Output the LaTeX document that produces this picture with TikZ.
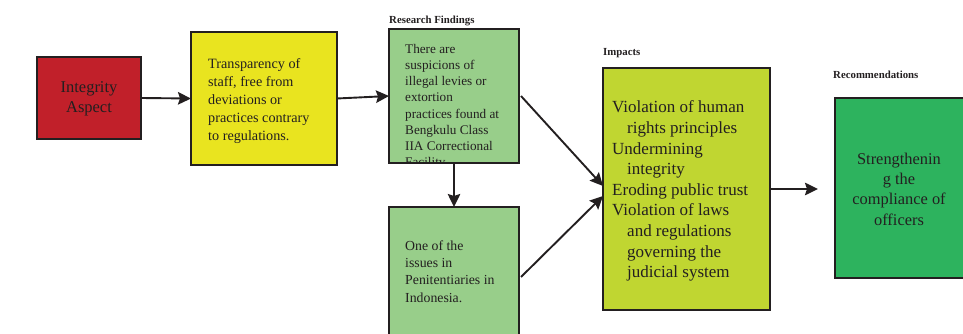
\documentclass[tikz,border=0pt]{standalone}
\usepackage{fontspec}
\setmainfont{Liberation Serif}
\usetikzlibrary{arrows.meta}

\definecolor{redbox}{HTML}{C1202A}
\definecolor{yellowbox}{HTML}{E9E41F}
\definecolor{lightgreen}{HTML}{98CE8A}
\definecolor{limebox}{HTML}{C0D631}
\definecolor{greenbox}{HTML}{2DB35E}
\definecolor{ink}{HTML}{231F20}

\begin{document}
\begin{tikzpicture}[x=1pt,y=-1pt,
  box/.style={rectangle, anchor=north west, inner sep=0pt, outer sep=0pt},
  frame/.style={draw=ink, line width=2.2pt},
  flow/.style={draw=ink, line width=1.9pt, -{Stealth[length=13pt,width=12.5pt,inset=2pt]}},
  heading/.style={font=\fontsize{10.8}{12}\selectfont\bfseries, anchor=base west, text=ink, inner sep=0pt},
  body/.style={text=ink, inner sep=0pt, align=left, anchor=north west}
]
\useasboundingbox (0,0) rectangle (963,334);

% boxes
\node[box, frame, fill=redbox, minimum width=104pt, minimum height=82pt] (aspect) at (37,57) {};
\node[box, frame, fill=yellowbox, minimum width=146pt, minimum height=133pt] (transp) at (191,32) {};
\node[box, fill=lightgreen, minimum width=130pt, minimum height=134pt] (findings) at (389,29) {};
\node[box, frame, fill=lightgreen, minimum width=130pt, minimum height=140pt] (issues) at (389,207) {};
\node[box, frame, fill=limebox, minimum width=167pt, minimum height=242pt] (impacts) at (603,68) {};
\node[box, frame, fill=greenbox, minimum width=160pt, minimum height=180pt] (recs) at (835,98) {};

% headings
\node[heading] (hfind) at (389,23.5) {Research Findings};
\node[heading] (himp) at (603,55.5) {Impacts};
\node[heading] (hrec) at (833,78.5) {Recommendations};

% texts
\node[text=ink, align=center, inner sep=0pt, font=\fontsize{16.5}{20}\selectfont] (taspect) at ([yshift=-1pt]aspect.center) {Integrity\\Aspect};
\node[body, font=\fontsize{14.2}{17.9}\selectfont] (ttransp) at (208,58.5) {Transparency of\\staff, free from\\deviations or\\practices contrary\\to regulations.};
\begin{scope}
  \clip ([shift={(1pt,1pt)}]findings.south west) rectangle ([shift={(-1pt,-1pt)}]findings.north east);
  \node[body, font=\fontsize{13.2}{16.2}\selectfont] (tfind) at (405,44) {There are\\suspicions of\\illegal levies or\\extortion\\practices found at\\Bengkulu Class\\IIA Correctional\\Facility};
\end{scope}
\draw[frame] (findings.north west) rectangle (findings.south east);
\node[body, font=\fontsize{13.8}{17.2}\selectfont] (tissues) at (405,240.5) {One of the\\issues in\\Penitentiaries in\\Indonesia.};
\node[body, font=\fontsize{17}{20.6}\selectfont] (timp) at (612,100.7) {Violation of human\\\hspace{15pt}rights principles\\Undermining\\\hspace{15pt}integrity\\Eroding public trust\\Violation of laws\\\hspace{15pt}and regulations\\\hspace{15pt}governing the\\\hspace{15pt}judicial system};
\node[text=ink, align=center, inner sep=0pt, font=\fontsize{16.4}{20.3}\selectfont] (trec) at (899,189) {Strengthenin\\g the\\compliance of\\officers};

% connectors
\coordinate (recin) at ([xshift=-17pt]recs.west |- impacts.east);
\draw[flow] (aspect.east) -- (transp.west);
\draw[flow] (transp.east) -- (findings.west);
\draw[flow] (findings.south) -- (issues.north);
\draw[flow] ([xshift=2pt]findings.east) -- ([yshift=3pt]impacts.west);
\draw[flow] ([xshift=2pt]issues.east) -- ([yshift=-7pt]impacts.west);
\draw[flow] (impacts.east) -- (recin);
\end{tikzpicture}
\end{document}
